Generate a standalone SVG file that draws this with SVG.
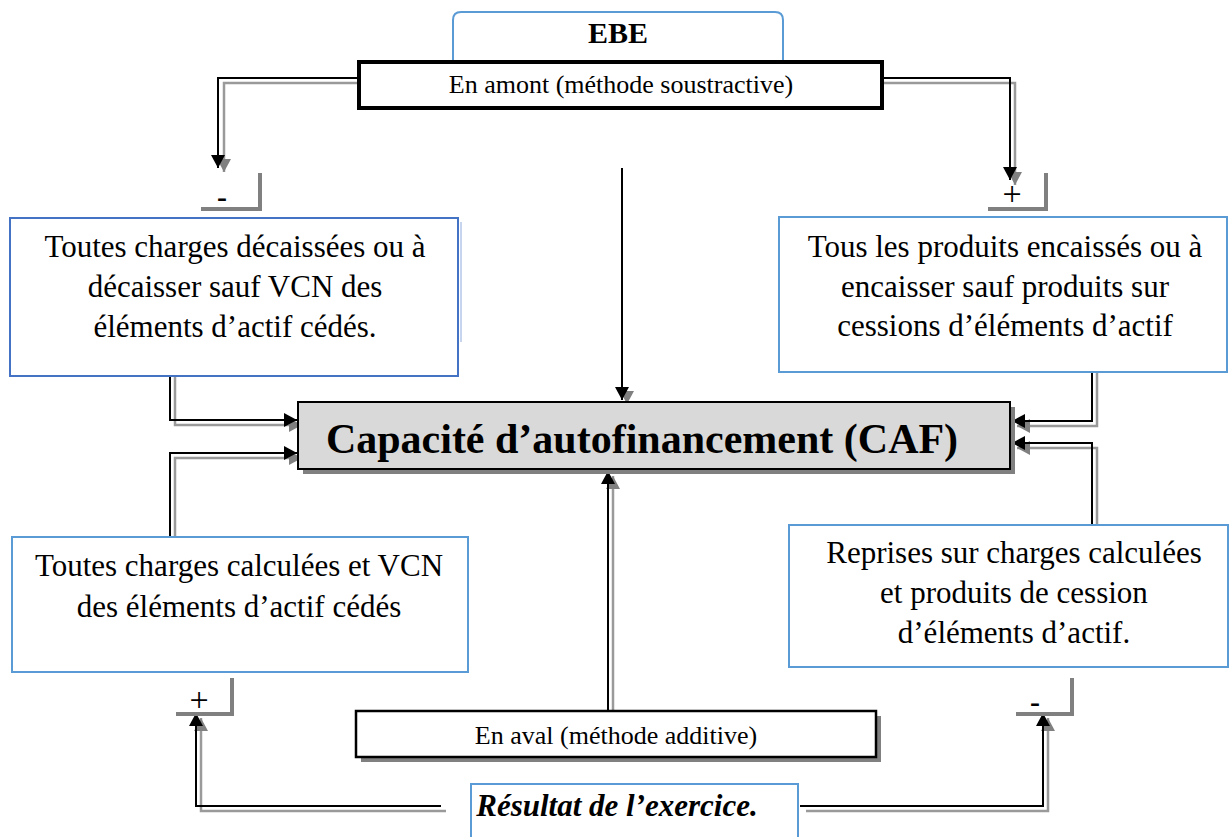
<svg xmlns="http://www.w3.org/2000/svg" width="1229" height="837" viewBox="0 0 1229 837">
<style>
.t{font-family:"Liberation Serif","Times New Roman",serif;fill:#000;text-anchor:middle}
.bx{font-size:31px}
.sm{font-size:26px}
.blk{fill:none;stroke:#000;stroke-width:2}
.shd{fill:none;stroke:#9a9a9a;stroke-width:2.5}
.b1{fill:#fff;stroke:#4472C4;stroke-width:2}
.b2{fill:#fff;stroke:#5B9BD5;stroke-width:2}
.br{fill:none;stroke:#808080;stroke-width:4}
</style>
<defs>
<marker id="ah" markerUnits="userSpaceOnUse" markerWidth="16" markerHeight="16" refX="13" refY="7" orient="auto"><path d="M0,0 L13,7 L0,14 z" fill="#000"/></marker>
<marker id="ahg" markerUnits="userSpaceOnUse" markerWidth="16" markerHeight="16" refX="13" refY="7" orient="auto"><path d="M0,0 L13,7 L0,14 z" fill="#808080"/></marker>
</defs>
<rect width="1229" height="837" fill="#fff"/>
<g id="connectors">
<path class="shd" d="M358,83 H224 V172" marker-end="url(#ahg)"/>
<path class="blk" d="M358,78 H218 V168" marker-end="url(#ah)"/>
<path class="shd" d="M882,83 H1015 V185" marker-end="url(#ahg)"/>
<path class="blk" d="M882,78 H1010 V180" marker-end="url(#ah)"/>
<path d="M627,380 V404" stroke="none" marker-end="url(#ahg)"/>
<path class="blk" d="M622,168 V400" marker-end="url(#ah)"/>
<path class="shd" d="M175,377 V425 H302" marker-end="url(#ahg)"/>
<path class="blk" d="M170,377 V420 H297" marker-end="url(#ah)"/>
<path class="shd" d="M175,537 V458 H302" marker-end="url(#ahg)"/>
<path class="blk" d="M170,537 V453 H297" marker-end="url(#ah)"/>
<path class="shd" d="M1097,372 V426 H1017" marker-end="url(#ahg)"/>
<path class="blk" d="M1092,372 V421 H1012" marker-end="url(#ah)"/>
<path class="shd" d="M1097,525 V448 H1017" marker-end="url(#ahg)"/>
<path class="blk" d="M1092,525 V443 H1012" marker-end="url(#ah)"/>
<path class="shd" d="M613,711 V476" marker-end="url(#ahg)"/>
<path class="blk" d="M608,711 V471" marker-end="url(#ah)"/>
<path class="shd" d="M446,811 H201 V718" marker-end="url(#ahg)"/>
<path class="blk" d="M441,806 H196 V713" marker-end="url(#ah)"/>
<path class="shd" d="M806,811 H1048 V718" marker-end="url(#ahg)"/>
<path class="blk" d="M800,806 H1043 V713" marker-end="url(#ah)"/>
</g>
<g id="ebe">
<path d="M453,62 V20 Q453,12 461,12 H775 Q783,12 783,20 V62" fill="#fff" stroke="#5B9BD5" stroke-width="2"/>
<text class="t" x="618" y="43" font-size="30" font-weight="bold">EBE</text>
</g>
<g id="amont">
<rect x="359" y="62" width="523" height="46" fill="#fff" stroke="#000" stroke-width="4"/>
<text class="t sm" x="621" y="93">En amont (méthode soustractive)</text>
</g>
<g id="moins-haut">
<path class="br" d="M260,173 V209 H201"/>
<text class="t" x="222" y="207" font-size="30" font-weight="bold">-</text>
</g>
<g id="plus-haut">
<path class="br" d="M1046,173 V209 H988"/>
<text class="t" x="1012" y="205" font-size="34">+</text>
</g>
<g id="charges-decaissees">
<line x1="461" y1="222" x2="461" y2="342" stroke="#8faadc" stroke-width="1"/>
<rect x="10" y="218" width="448" height="158" class="b1"/>
<text class="t bx" x="235" y="257">Toutes charges décaissées ou à</text>
<text class="t bx" x="235" y="297">décaisser sauf VCN des</text>
<text class="t bx" x="235" y="337">éléments d’actif cédés.</text>
</g>
<g id="produits-encaisses">
<rect x="779" y="217" width="448" height="155" class="b2"/>
<text class="t bx" x="1005" y="257">Tous les produits encaissés ou à</text>
<text class="t bx" x="1005" y="297">encaisser sauf produits sur</text>
<text class="t bx" x="1005" y="336">cessions d’éléments d’actif</text>
</g>
<g id="caf">
<rect x="303" y="407" width="712" height="67" fill="#808080"/>
<rect x="298" y="402" width="712" height="67" fill="#d9d9d9" stroke="#000" stroke-width="2"/>
<text class="t" x="642" y="453" font-size="42" font-weight="bold">Capacité d’autofinancement (CAF)</text>
</g>
<g id="charges-calculees">
<rect x="12" y="537" width="456" height="135" class="b2"/>
<text class="t bx" x="239" y="576">Toutes charges calculées et VCN</text>
<text class="t bx" x="239" y="617">des éléments d’actif cédés</text>
</g>
<g id="reprises">
<rect x="789" y="525" width="439" height="142" class="b2"/>
<text class="t bx" x="1014" y="563">Reprises sur charges calculées</text>
<text class="t bx" x="1014" y="603">et produits de cession</text>
<text class="t bx" x="1014" y="643">d’éléments d’actif.</text>
</g>
<g id="plus-bas">
<path class="br" d="M232,678 V714 H176"/>
<text class="t" x="199" y="711" font-size="34">+</text>
</g>
<g id="moins-bas">
<path class="br" d="M1072,678 V714 H1016"/>
<text class="t" x="1035" y="712" font-size="30" font-weight="bold">-</text>
</g>
<g id="aval">
<rect x="361" y="716" width="520" height="46" fill="#808080"/>
<rect x="356" y="711" width="520" height="46" fill="#fff" stroke="#000" stroke-width="2.5"/>
<text class="t sm" x="616" y="744">En aval (méthode additive)</text>
</g>
<g id="resultat">
<rect x="471" y="784" width="327" height="70" class="b2"/>
<text class="t" x="617" y="816" font-size="31" font-weight="bold" font-style="italic">Résultat de l’exercice.</text>
</g>
</svg>
